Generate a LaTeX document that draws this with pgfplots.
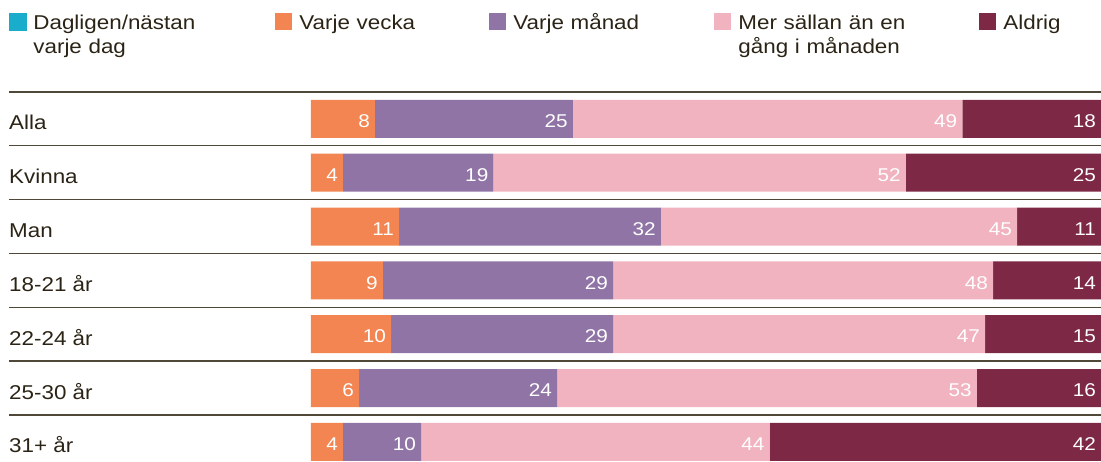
\documentclass[border=0pt]{standalone}
\usepackage{fontspec}
\setmainfont{Liberation Sans}[FakeStretch=1.12]
\usepackage{pgfplots}
\pgfplotsset{compat=1.18}
\definecolor{cDaily}{HTML}{1AADCB}
\definecolor{cWeek}{HTML}{F28551}
\definecolor{cMonth}{HTML}{8F74A5}
\definecolor{cLess}{HTML}{F1B3C0}
\definecolor{cNever}{HTML}{7D2844}
\definecolor{txt}{HTML}{2B2416}
\definecolor{sepc}{HTML}{4F4838}
\begin{document}
\begin{tikzpicture}
\useasboundingbox (0,0) rectangle (1101pt,-462pt);
\begin{axis}[
  at={(311pt,-92pt)}, anchor=north west,
  scale only axis, width=790pt, height=376.8pt,
  xbar stacked, bar width=38pt,
  xmin=0, xmax=100, ymin=-0.5, ymax=6.5, y dir=reverse,
  clip=false,
  hide x axis,
  axis line style={draw=none},
  major tick length=0pt,
  ytick style={draw=none},
  ytick={0,1,2,3,4,5,6},
  yticklabels={Alla,Kvinna,Man,18-21 år,22-24 år,25-30 år,31+ år},
  yticklabel style={anchor=base west, inner sep=0pt, xshift=-302pt, yshift=-11pt,
    font=\fontsize{20}{24}\selectfont, text=txt},
  nodes near coords,
  point meta=explicit symbolic,
  visualization depends on={rawx \as \rawx},
  every node near coord/.append style={anchor=base east, xshift={\rawx*3.95pt-5pt}, yshift=-8.7pt,
    inner sep=0pt, text=white, font=\fontsize{18.5}{22}\selectfont},
  legend columns=5,
  legend cell align=left,
  legend style={at={(axis description cs:-0.38228,1.2097)}, anchor=north west,
    draw=none, fill=none, inner sep=0pt, outer sep=0pt,
    cells={anchor=base west},
    nodes={inner sep=0pt, text=txt, font=\fontsize{20}{23.5}\selectfont},
    /tikz/every odd column/.append style={column sep=7pt},
    /tikz/every even column/.append style={column sep=0pt}},
]
\addlegendimage{legend image code/.code={\fill[cDaily] (0pt,-0.5pt) rectangle (17pt,16.5pt);}}
\addlegendentry[text width=242pt, align=left]{Dagligen/nästan\\varje dag}

\addplot[fill=cWeek, draw=none,
  legend image code/.code={\fill[cWeek] (0pt,-0.5pt) rectangle (17pt,16.5pt);}]
  coordinates {(8.1,0) [8] (4.05,1) [4] (11.14,2) [11] (9.11,3) [9] (10.13,4) [10] (6.08,5) [6] (4.05,6) [4]};
\addlegendentry[text width=190pt, align=left]{Varje vecka}

\addplot[fill=cMonth, draw=none,
  legend image code/.code={\fill[cMonth] (0pt,-0.5pt) rectangle (17pt,16.5pt);}]
  coordinates {(25.06,0) [25] (19.05,1) [19] (33.16,2) [32] (29.12,3) [29] (28.1,4) [29] (25.06,5) [24] (9.9,6) [10]};
\addlegendentry[text width=201pt, align=left]{Varje månad}

\addplot[fill=cLess, draw=none,
  legend image code/.code={\fill[cLess] (0pt,-0.5pt) rectangle (17pt,16.5pt);}]
  coordinates {(49.3,0) [49] (52.2,1) [52] (45.07,2) [45] (48.1,3) [48] (47.09,4) [47] (53.16,5) [53] (44.1,6) [44]};
\addlegendentry[text width=241pt, align=left]{Mer sällan än en\\gång i månaden}

\addplot[fill=cNever, draw=none,
  legend image code/.code={\fill[cNever] (0pt,-0.5pt) rectangle (17pt,16.5pt);}]
  coordinates {(17.54,0) [18] (24.7,1) [25] (10.63,2) [11] (13.67,3) [14] (14.68,4) [15] (15.7,5) [16] (41.95,6) [42]};
\addlegendentry[text width=70pt, align=left]{Aldrig}

\pgfplotsinvokeforeach{-0.5,0.5,1.5,2.5,3.5,4.5,5.5}{
  \draw[sepc, line width=1.3pt] (axis cs:-38.23,#1) -- (axis cs:100,#1);
}
\end{axis}
\end{tikzpicture}
\end{document}
